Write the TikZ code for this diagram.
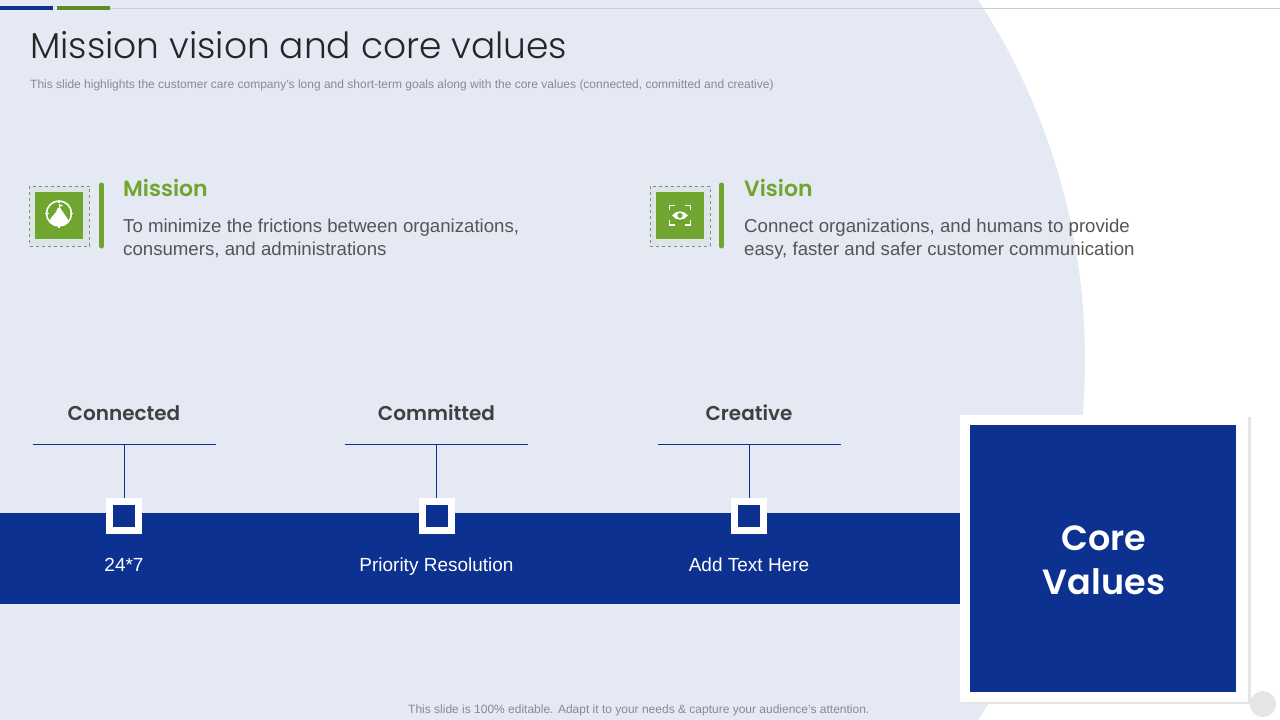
\documentclass[tikz,border=0pt]{standalone}
\usepackage{fontspec}
\setmainfont{Liberation Sans}
\newfontfamily\headfont[UprightFont=* Light,BoldFont=* SemiBold]{Poppins}
\usetikzlibrary{positioning}
\definecolor{paleblue}{HTML}{E4E9F4}
\definecolor{deepblue}{HTML}{0D3190}
\definecolor{leafgreen}{HTML}{70A52F}
\definecolor{bodygray}{HTML}{555555}
\definecolor{notegray}{HTML}{8A8A8E}
\definecolor{headgray}{HTML}{404040}
\tikzset{
  headlabel/.style={anchor=base,inner sep=0pt,text=headgray,font=\headfont\bfseries\fontsize{20}{24}\selectfont},
  greenlabel/.style={anchor=base west,inner sep=0pt,text=leafgreen,font=\headfont\bfseries\fontsize{22}{26}\selectfont},
  bodytext/.style={anchor=base west,inner sep=0pt,text=bodygray,font=\fontsize{18.65}{23}\selectfont,align=left},
  bandtext/.style={anchor=base,inner sep=0pt,text=white,font=\fontsize{19}{23}\selectfont},
  notetext/.style={anchor=base west,inner sep=0pt,text=notegray,font=\fontsize{12}{14}\selectfont},
  rulepath/.style={draw=deepblue,line width=0.9pt},
  markbox/.style={draw=white,fill=deepblue,line width=7pt,minimum size=29pt,inner sep=0pt,outer sep=3.5pt},
  iconbox/.style={draw=notegray!70!leafgreen,dashed,line width=0.6pt,fill=leafgreen!6!paleblue,minimum width=60pt,minimum height=60pt,inner sep=0pt},
  iconsquare/.style={fill=leafgreen,minimum width=48pt,minimum height=47pt,inner sep=0pt},
  greenbar/.style={draw=leafgreen,line width=5pt,line cap=round},
  iconline/.style={draw=white,line width=1.6pt}
}
\begin{document}
\begin{tikzpicture}[x=1pt,y=-1pt]
  \useasboundingbox (0,0) rectangle (1280,720);
  \fill [white] (0,0) rectangle (1280,720);
  % big pale circle
  \begin{scope}
    \clip (0,0) rectangle (1280,720);
    \fill [paleblue] (426,360) circle (659);
  \end{scope}
  % top strip
  \draw [line width=0.8pt,black!20] (110,8.5) -- (1280,8.5);
  \fill [deepblue] (0,6) rectangle (53,10);
  \fill [leafgreen!85!black] (57,6) rectangle (110,10);
  % heading
  \node [anchor=base west,inner sep=0pt,text=black!85,font=\headfont\fontsize{36}{40}\selectfont] (title) at (30,58) {Mission vision and core values};
  \node [notetext,font=\fontsize{12}{14}\selectfont] (subtitle) at (30,88) {This slide highlights the customer care company’s long and short-term goals along with the core values (connected, committed and creative)};
  % mission
  \node [iconbox] (missionbox) at (59.5,216) {};
  \node [iconsquare] (missionicon) at (59,215.5) {};
  \draw [greenbar] (101.5,185) -- (101.5,246);
  \begin{scope}
    \clip (59,213.5) circle (12.5);
    \fill [white] (44,230) -- (51,218) -- (56,212) -- (58,207.5) -- (60,207.5) -- (63,212) -- (67,218) -- (74,230) -- cycle;
  \end{scope}
  \draw [iconline] (59,213.5) circle (12.5);
  \draw [iconline] (59,199.5) -- (59,203);
  \draw [iconline] (59,224) -- (59,227.5);
  \draw [iconline] (45,213.5) -- (48.5,213.5);
  \draw [iconline] (69.5,213.5) -- (73,213.5);
  \draw [white,line width=0.8pt] (59,208) -- (59,204);
  \fill [white] (59,204) -- (63,205.5) -- (59,207) -- cycle;
  \node [greenlabel] (missionhead) at (123,196) {Mission};
  \node [bodytext] (missiontext) at (123,255) {To minimize the frictions between organizations,\\consumers, and administrations};
  % vision
  \node [iconbox] (visionbox) at (680,216) {};
  \node [iconsquare] (visionicon) at (680,215.5) {};
  \draw [greenbar] (721.5,185) -- (721.5,246);
  \draw [iconline] (669.5,210) -- (669.5,205.5) -- (675,205.5);
  \draw [iconline] (685,205.5) -- (690.5,205.5) -- (690.5,210);
  \draw [iconline] (669.5,220) -- (669.5,225) -- (675,225);
  \draw [iconline] (685,225) -- (690.5,225) -- (690.5,220);
  \fill [white] (672,215.5) .. controls (676,210) and (684,210) .. (688,215.5) .. controls (684,221) and (676,221) .. (672,215.5) -- cycle;
  \fill [leafgreen] (680,215.5) circle (2.6);
  \node [greenlabel] (visionhead) at (744,196) {Vision};
  \node [bodytext] (visiontext) at (744,255) {Connect organizations, and humans to provide\\easy, faster and safer customer communication};
  % band
  \fill [deepblue] (0,513) rectangle (961,604);
  % core values panel
  \fill [black!10] (962,417) rectangle (1250.5,704);
  \node [fill=white,minimum width=288pt,minimum height=287pt,inner sep=0pt] (corepanel) at (1104,558.5) {};
  \node [fill=deepblue,minimum width=266pt,minimum height=267pt,inner sep=0pt] (coresquare) at (1103,558.5) {};
  \node [inner sep=0pt,align=center,text=white,font=\headfont\bfseries\fontsize{35}{44}\selectfont] (coretext) at (1104,560.5) {Core\\Values};
  % connected
  \node [headlabel] (connected) at (124,420.5) {Connected};
  \coordinate (connectedleft) at (33,444.5);
  \coordinate (connectedright) at (216,444.5);
  \coordinate (connectedmid) at (124,444.5);
  \node [markbox] (connectedmark) at (124,516) {};
  \draw [rulepath] (connectedleft) -- (connectedright);
  \draw [rulepath] (connectedmid) -- (connectedmark);
  \node [bandtext] (connectedtext) at (124,571) {24*7};
  % committed
  \node [headlabel] (committed) at (436.5,420.5) {Committed};
  \coordinate (committedleft) at (345,444.5);
  \coordinate (committedright) at (528,444.5);
  \coordinate (committedmid) at (436.5,444.5);
  \node [markbox] (committedmark) at (436.5,516) {};
  \draw [rulepath] (committedleft) -- (committedright);
  \draw [rulepath] (committedmid) -- (committedmark);
  \node [bandtext] (committedtext) at (436.5,571) {Priority Resolution};
  % creative
  \node [headlabel] (creative) at (749,420.5) {Creative};
  \coordinate (creativeleft) at (658,444.5);
  \coordinate (creativeright) at (841,444.5);
  \coordinate (creativemid) at (749,444.5);
  \node [markbox] (creativemark) at (749,516) {};
  \draw [rulepath] (creativeleft) -- (creativeright);
  \draw [rulepath] (creativemid) -- (creativemark);
  \node [bandtext] (creativetext) at (749,571) {Add Text Here};
  % footer
  \node [notetext] (footer) at (408,713) {This slide is 100\% editable. Adapt it to your needs \& capture your audience’s attention.};
  \fill [black!10] (1263,704) circle (13);
\end{tikzpicture}
\end{document}
